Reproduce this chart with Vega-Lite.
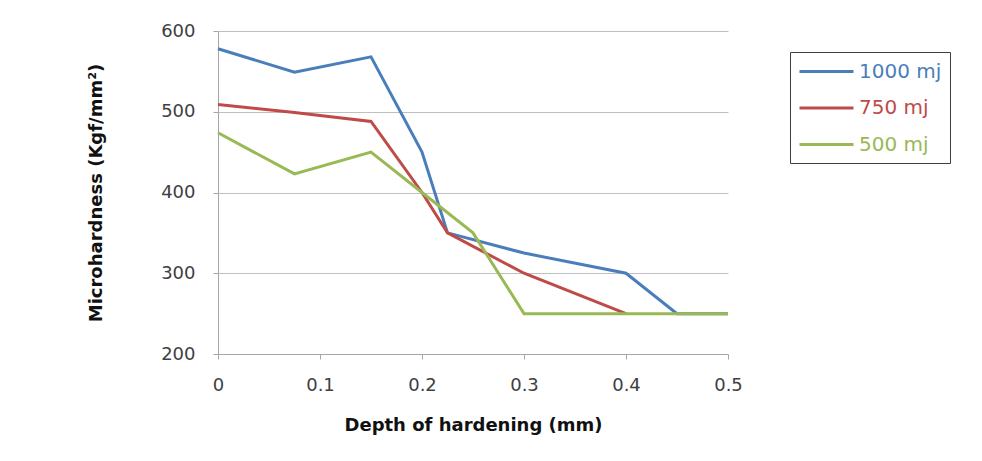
{
  "$schema": "https://vega.github.io/schema/vega-lite/v6.json",
  "autosize": {"type": "none"},
  "padding": {"left": 218, "top": 31, "right": 254, "bottom": 107},
  "width": 510,
  "height": 323,
  "background": "white",
  "config": {
    "view": {"stroke": null},
    "font": "DejaVu Sans"
  },
  "data": {
    "values": [
      {"series": "1000 mj", "depth": 0, "hardness": 578},
      {"series": "1000 mj", "depth": 0.075, "hardness": 549},
      {"series": "1000 mj", "depth": 0.15, "hardness": 568},
      {"series": "1000 mj", "depth": 0.2, "hardness": 450},
      {"series": "1000 mj", "depth": 0.225, "hardness": 350},
      {"series": "1000 mj", "depth": 0.3, "hardness": 325},
      {"series": "1000 mj", "depth": 0.4, "hardness": 300},
      {"series": "1000 mj", "depth": 0.45, "hardness": 250},
      {"series": "1000 mj", "depth": 0.5, "hardness": 250},
      {"series": "750 mj", "depth": 0, "hardness": 509},
      {"series": "750 mj", "depth": 0.075, "hardness": 499},
      {"series": "750 mj", "depth": 0.15, "hardness": 488},
      {"series": "750 mj", "depth": 0.2, "hardness": 400},
      {"series": "750 mj", "depth": 0.225, "hardness": 350},
      {"series": "750 mj", "depth": 0.3, "hardness": 300},
      {"series": "750 mj", "depth": 0.4, "hardness": 250},
      {"series": "500 mj", "depth": 0, "hardness": 474},
      {"series": "500 mj", "depth": 0.075, "hardness": 423},
      {"series": "500 mj", "depth": 0.15, "hardness": 450},
      {"series": "500 mj", "depth": 0.2, "hardness": 400},
      {"series": "500 mj", "depth": 0.25, "hardness": 350},
      {"series": "500 mj", "depth": 0.3, "hardness": 250},
      {"series": "500 mj", "depth": 0.4, "hardness": 250},
      {"series": "500 mj", "depth": 0.45, "hardness": 250},
      {"series": "500 mj", "depth": 0.5, "hardness": 250}
    ]
  },
  "mark": {"type": "line", "strokeWidth": 3, "strokeJoin": "miter"},
  "encoding": {
    "x": {
      "field": "depth",
      "type": "quantitative",
      "scale": {"domain": [0, 0.5], "nice": false},
      "axis": {
        "title": "Depth of hardening (mm)",
        "values": [0, 0.1, 0.2, 0.3, 0.4, 0.5],
        "format": "~g",
        "grid": false,
        "labelFlush": false,
        "domainColor": "#a6a6a6",
        "tickColor": "#a6a6a6",
        "tickSize": 5,
        "labelPadding": 17,
        "labelFontSize": 18,
        "labelColor": "#404040",
        "labelFont": "DejaVu Sans",
        "titleFont": "DejaVu Sans",
        "titleFontSize": 18,
        "titleFontWeight": "bold",
        "titleColor": "#111111",
        "titlePadding": 22
      }
    },
    "y": {
      "field": "hardness",
      "type": "quantitative",
      "scale": {"domain": [200, 600], "nice": false, "zero": false},
      "axis": {
        "title": "Microhardness (Kgf/mm²)",
        "values": [200, 300, 400, 500, 600],
        "grid": true,
        "gridColor": "#c0c0c0",
        "gridWidth": 1,
        "domainColor": "#a6a6a6",
        "tickColor": "#a6a6a6",
        "tickSize": 5,
        "labelPadding": 18,
        "labelFontSize": 18,
        "labelColor": "#404040",
        "labelFont": "DejaVu Sans",
        "titleFont": "DejaVu Sans",
        "titleFontSize": 18,
        "titleFontWeight": "bold",
        "titleColor": "#111111",
        "titlePadding": 55
      }
    },
    "color": {
      "field": "series",
      "type": "nominal",
      "sort": ["1000 mj", "750 mj", "500 mj"],
      "scale": {
        "domain": ["1000 mj", "750 mj", "500 mj"],
        "range": ["#4a7ebb", "#be4b48", "#98b954"]
      },
      "legend": {
        "title": null,
        "orient": "none",
        "legendX": 572,
        "legendY": 21,
        "symbolType": "M-1,0H4.4",
        "symbolSize": 400,
        "symbolStrokeWidth": 3,
        "labelFontSize": 20,
        "labelFont": "DejaVu Sans",
        "labelOffset": 38,
        "rowPadding": 14.5,
        "padding": 8,
        "strokeColor": "#404040",
        "fillColor": "white",
        "encode": {
          "labels": {"update": {"fill": {"scale": "color", "field": "value"}}}
        }
      }
    }
  }
}
